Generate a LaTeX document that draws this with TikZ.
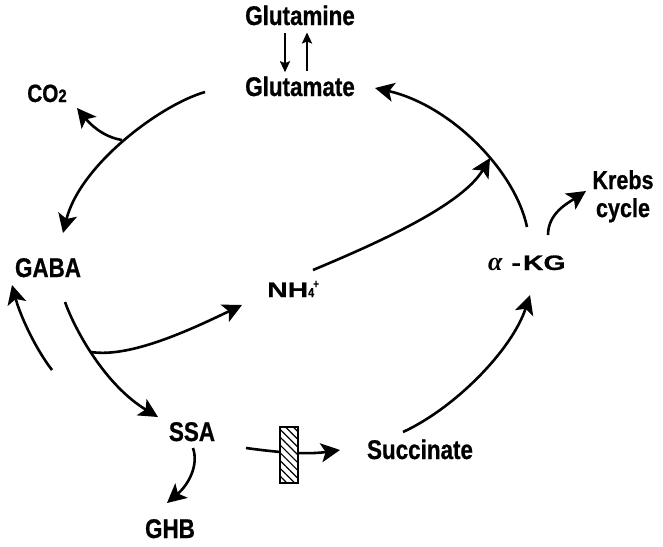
\documentclass[tikz,border=0pt]{standalone}
\usepackage{fontspec}
\setmainfont{Liberation Sans}[FakeStretch=0.83, FakeBold=0.7]
\newfontfamily\widefont{Liberation Sans}[FakeStretch=1.35, FakeBold=0.6]
\newfontfamily\greekfont{Liberation Serif}
\usetikzlibrary{arrows.meta,patterns.meta}
\begin{document}
\begin{tikzpicture}[x=1pt,y=-1pt,
  lbl/.style={inner sep=0pt, anchor=base, font=\fontsize{27}{28}\selectfont\bfseries},
  lblsmall/.style={inner sep=0pt, anchor=base west, font=\fontsize{21}{22}\selectfont\bfseries},
  arr/.style={line width=2.6pt, -{Stealth[length=19pt,width=19pt,inset=4.5pt]}},
  smallarr/.style={line width=2.3pt, -{Stealth[length=11pt,width=10pt,inset=2pt]}},
  hatchbox/.style={draw, line width=1.3pt, minimum width=18pt, minimum height=56pt, inner sep=0pt,
    preaction={fill=white}, pattern={Lines[angle=-45,distance=5.5pt,line width=1.2pt]}},
]
\useasboundingbox (0,0) rectangle (663,546);

% labels
\node[lbl] (glutamine) at (300,25) {Glutamine};
\node[lbl] (glutamate) at (300,96) {Glutamate};
\node[lbl, font=\fontsize{25}{26}\selectfont\bfseries] (co2) at (47,102) {CO{\fontsize{18}{18}\selectfont 2}};
\node[lbl] (gaba) at (48,277) {GABA};
\node[lblsmall] (nh4) at (267,297) {\widefont NH{\normalfont\bfseries\fontsize{13}{13}\selectfont 4}\kern-1pt\raisebox{9pt}{\normalfont\bfseries\fontsize{12}{12}\selectfont +}};
\node[lblsmall] (akg) at (488,270) {{\greekfont\itshape\fontsize{26}{26}\selectfont α}\hspace{9pt}\widefont -\hspace{2pt}KG};
\node[inner sep=0pt, anchor=north, align=center, font=\fontsize{26}{28}\selectfont\bfseries] (krebs) at (623,170) {Krebs\\cycle};
\node[lbl] (ssa) at (192,441) {SSA};
\node[lbl] (ghb) at (170,538) {GHB};
\node[lbl] (succinate) at (420,459) {Succinate};

% free ends of connectors
\coordinate (gluOut) at (205,92);
\coordinate (gabaIn) at (63,233);
\coordinate (co2br) at (122,140);
\coordinate (co2In) at (77,108);
\coordinate (kgUp) at (527,227);
\coordinate (gluIn) at (375,88);
\coordinate (junc) at (490,158);
\coordinate (nhOut) at (313,270);
\coordinate (kgKrebs) at (548,235);
\coordinate (krebsIn) at (586,191);
\coordinate (sucOut) at (403,432);
\coordinate (kgIn) at (530,295);
\coordinate (ssaR) at (246,448);
\coordinate (sucIn) at (340,450);
\coordinate (ssaD) at (193,448);
\coordinate (ghbIn) at (167,503);
\coordinate (gabaD) at (65,302);
\coordinate (ssaIn) at (158,417);
\coordinate (br) at (91,352);
\coordinate (nhIn) at (242,305);
\coordinate (gabaUpStart) at (52,370);
\coordinate (gabaUpIn) at (12,285);

% glutamine <-> glutamate
\draw[smallarr] ([xshift=-15pt,yshift=-8pt]glutamine.south) -- ([xshift=-15pt,yshift=4pt]glutamate.north);
\draw[smallarr] ([xshift=7pt,yshift=5pt]glutamate.north) -- ([xshift=7pt,yshift=-7pt]glutamine.south);

% cycle arcs
\draw[arr] (gluOut) .. controls (160,105) and (80,165) .. (gabaIn);
\draw[arr] (co2br) .. controls (103,137) and (90,124) .. (co2In);
\draw[arr] (kgUp) .. controls (515,170) and (450,105) .. (gluIn);
\draw[arr] (nhOut) .. controls (380,242) and (462,205) .. (junc);
\draw[arr] (kgKrebs) .. controls (548,213) and (568,203) .. (krebsIn);
\draw[arr] (sucOut) .. controls (455,408) and (512,350) .. (kgIn);
\draw[arr] (ssaR) .. controls (275,452) and (305,455) .. (sucIn);
\draw[arr] (ssaD) .. controls (199,466) and (188,485) .. (ghbIn);
\draw[arr] (gabaD) .. controls (75,330) and (105,385) .. (ssaIn);
\draw[arr] (br) .. controls (130,358) and (190,330) .. (nhIn);
\draw[arr] (gabaUpStart) .. controls (35,348) and (20,315) .. (gabaUpIn);

% blocked step
\node[hatchbox] (block) at (289,455) {};
\end{tikzpicture}
\end{document}
